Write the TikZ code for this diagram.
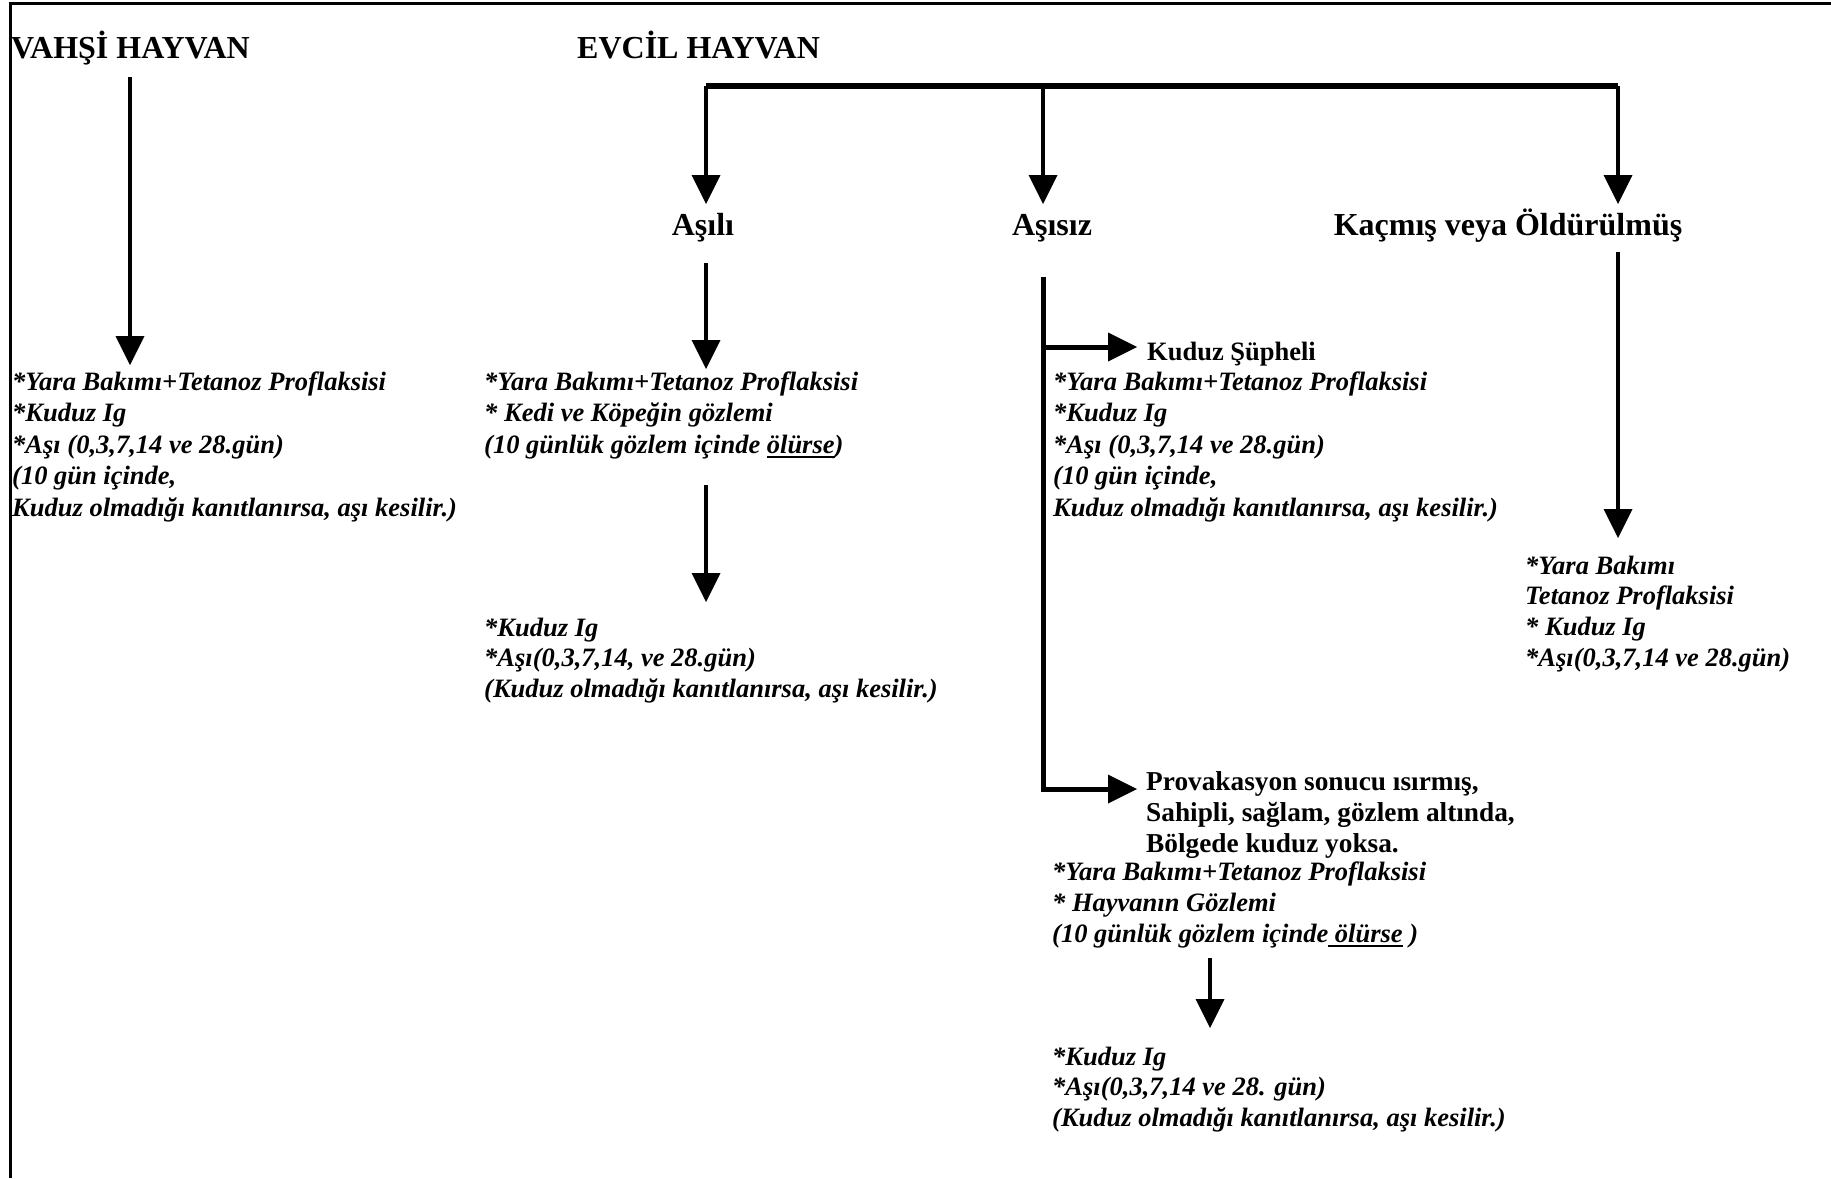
\documentclass[tikz,border=0pt]{standalone}
\usepackage{fontspec}
\setmainfont{Liberation Serif}
\usetikzlibrary{arrows.meta}
\newcommand\myul[1]{\setbox0\hbox{#1}\rlap{\rule[-5pt]{\wd0}{2.2pt}}\box0}
\begin{document}
\begin{tikzpicture}[x=1pt,y=-1pt,
  hdr/.style={font=\fontsize{32}{38}\selectfont\bfseries, inner sep=0pt},
  body/.style={font=\fontsize{26.5}{31.5}\selectfont\bfseries\itshape, align=left, inner sep=0pt, anchor=base west},
  bodytight/.style={body, font=\fontsize{26.5}{30.8}\selectfont\bfseries\itshape},
  sub/.style={font=\fontsize{26.5}{31}\selectfont\bfseries, align=left, inner sep=0pt, anchor=base west},
  arr/.style={line width=4.5pt, -{Triangle[length=29pt,width=29pt,line width=0pt]}},
  thickarr/.style={arr, line width=5pt, line join=miter}
]
\useasboundingbox (0,0) rectangle (1831,1178);
% border
\draw[line width=3.3pt] (8.9,3.3) -- (1831,3.3);
\draw[line width=2.7pt] (10.3,2) -- (10.3,1178);

% headings
\node[hdr, anchor=base west] (vahsi) at (11,58) {VAHŞİ HAYVAN};
\node[hdr, anchor=base west] (evcil) at (577,58) {EVCİL HAYVAN};
\node[hdr, anchor=base] (asili) at (703,235) {Aşılı};
\node[hdr, anchor=base] (asisiz) at (1052,235) {Aşısız};
\node[hdr, anchor=base] (kacmis) at (1508,235) {Kaçmış veya Öldürülmüş};

% text blocks (anchor = baseline of the last line)
\node[body] (vbody) at (12,516) {*Yara Bakımı+Tetanoz Proflaksisi\\*Kuduz Ig\\*Aşı (0,3,7,14 ve 28.gün)\\(10 gün içinde,\\Kuduz olmadığı kanıtlanırsa, aşı kesilir.)};
\node[body] (abody) at (484,453) {*Yara Bakımı+Tetanoz Proflaksisi\\* Kedi ve Köpeğin gözlemi\\(10 günlük gözlem içinde \myul{ölürse})};
\node[bodytight] (abody2) at (484,697.6) {*Kuduz Ig\\*Aşı(0,3,7,14, ve 28.gün)\\(Kuduz olmadığı kanıtlanırsa, aşı kesilir.)};
\node[sub] (kudsup) at (1147,360) {Kuduz Şüpheli};
\node[body] (kbody) at (1053,516) {*Yara Bakımı+Tetanoz Proflaksisi\\*Kuduz Ig\\*Aşı (0,3,7,14 ve 28.gün)\\(10 gün içinde,\\Kuduz olmadığı kanıtlanırsa, aşı kesilir.)};
\node[bodytight] (kacbody) at (1525,666.4) {*Yara Bakımı\\Tetanoz Proflaksisi\\* Kuduz Ig\\*Aşı(0,3,7,14 ve 28.gün)};
\node[sub, font=\fontsize{27.3}{31}\selectfont\bfseries] (prov) at (1146,852) {Provakasyon sonucu ısırmış,\\Sahipli, sağlam, gözlem altında,\\Bölgede kuduz yoksa.};
\node[body, font=\fontsize{26.5}{31}\selectfont\bfseries\itshape] (pbody) at (1052,942) {*Yara Bakımı+Tetanoz Proflaksisi\\* Hayvanın Gözlemi\\(10 günlük gözlem içinde\myul{ ölürse}\ )};
\node[body, font=\fontsize{26.5}{30.5}\selectfont\bfseries\itshape] (pbody2) at (1052,1126) {*Kuduz Ig\\*Aşı(0,3,7,14 ve 28. gün)\\(Kuduz olmadığı kanıtlanırsa, aşı kesilir.)};

% connector coordinates
\coordinate (vTop) at (130,77);
\coordinate (vTip) at (130,365);
\coordinate (barL) at (706,86);
\coordinate (barM) at (1043,86);
\coordinate (barR) at (1618,86);
\coordinate (asTip) at (706,204);
\coordinate (azTip) at (1043,204);
\coordinate (kTip) at (1618,204);
\coordinate (asTop) at (706,263);
\coordinate (asTip2) at (706,369);
\coordinate (asMid) at (706,485);
\coordinate (asTip3) at (706,602);
\coordinate (azTop) at (1043,277);
\coordinate (azBr) at (1043,347);
\coordinate (kudTip) at (1137,347);
\coordinate (azCorner) at (1043,789);
\coordinate (provTip) at (1137,789);
\coordinate (kTop) at (1618,252);
\coordinate (kTip2) at (1618,538);
\coordinate (pTop) at (1210,958);
\coordinate (pTip) at (1210,1028);

% connectors
\draw[arr] (vTop) -- (vTip);
\draw[line width=5.5pt, line cap=square] (barL) -- (barR);
\draw[arr] (barL) -- (asTip);
\draw[arr] (barM) -- (azTip);
\draw[arr] (barR) -- (kTip);
\draw[arr] (asTop) -- (asTip2);
\draw[arr] (asMid) -- (asTip3);
\draw[thickarr] (azTop) -- (azCorner) -- (provTip);
\draw[thickarr] (azBr) -- (kudTip);
\draw[arr] (kTop) -- (kTip2);
\draw[arr] (pTop) -- (pTip);
\end{tikzpicture}
\end{document}
